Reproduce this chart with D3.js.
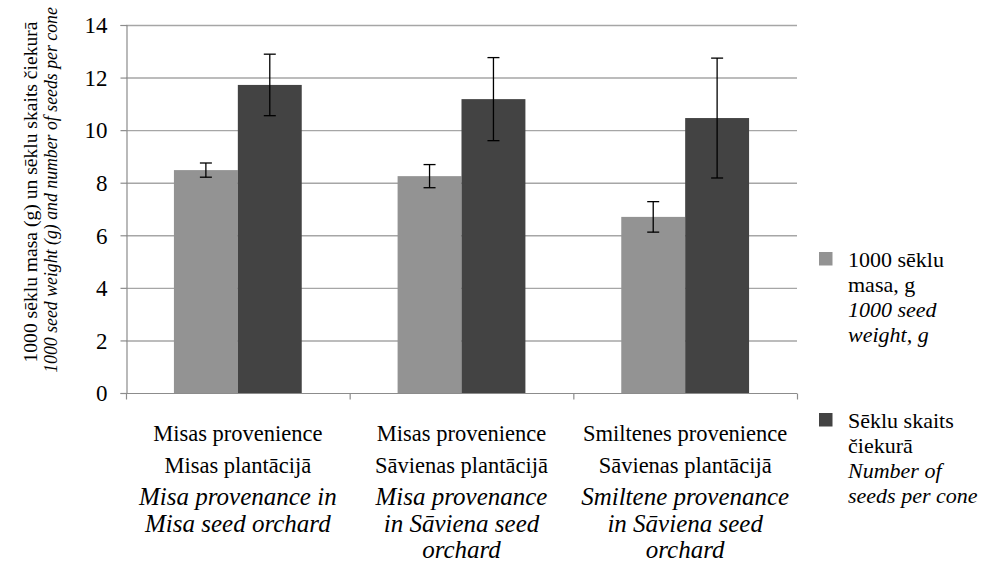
<!DOCTYPE html>
<html><head><meta charset="utf-8">
<script src="https://cdn.jsdelivr.net/npm/d3@7/dist/d3.min.js"></script>
<style>body{margin:0;background:#fff}svg{display:block}</style>
</head><body>
<script>
const categories = ["g1","g2","g3"];
const catLinesRegular = [
  ["Misas provenience","Misas plantācijā"],
  ["Misas provenience","Sāvienas plantācijā"],
  ["Smiltenes provenience","Sāvienas plantācijā"]
];
const catLinesItalic = [
  ["Misa provenance in","Misa seed orchard"],
  ["Misa provenance","in Sāviena seed","orchard"],
  ["Smiltene provenance","in Sāviena seed","orchard"]
];
const seriesNames = ["mass","count"];
const seedMass = [8.48, 8.25, 6.7];
const seedMassErr = [0.27, 0.44, 0.58];
const seedCount = [11.72, 11.18, 10.46];
const seedCountErr = [1.17, 1.58, 2.28];
const yTicks = [0,2,4,6,8,10,12,14];
const legendRegular = [["1000 sēklu","masa, g"],["Sēklu skaits","čiekurā"]];
const legendItalic = [["1000 seed","weight, g"],["Number of","seeds per cone"]];
const yTitle1 = "1000 sēklu masa (g) un sēklu skaits čiekurā";
const yTitle2 = "1000 seed weight (g) and number of seeds per cone";

const W=992,H=564;
const m={l:126,r:797,t:25,b:393};
const colors=["#939393","#434343"];
const font="'Liberation Serif', 'Times New Roman', serif";

const svg=d3.select("body").append("svg").attr("width",W).attr("height",H)
  .attr("font-family",font);
const x=d3.scaleBand().domain(categories).range([m.l,m.r]).paddingInner(0).paddingOuter(0);
const xs=d3.scaleBand().domain(seriesNames).range([0,x.bandwidth()]).paddingInner(0).paddingOuter(0.75);
const y=d3.scaleLinear().domain([0,14]).range([m.b,m.t]);

// gridlines
svg.append("g").selectAll("line").data(yTicks.filter(d=>d>0)).join("line")
  .attr("x1",m.l).attr("x2",m.r).attr("y1",d=>y(d)+0.5).attr("y2",d=>y(d)+0.5)
  .attr("stroke","#a6a6a6").attr("stroke-width",1.4);

// y axis
const ya=svg.append("g").attr("transform",`translate(${m.l+0.5},0)`)
  .call(d3.axisLeft(y).tickValues(yTicks).tickSize(6).tickPadding(13).tickFormat(d3.format("d")));
ya.attr("font-family",font);
ya.selectAll("path,line").attr("stroke","#8c8c8c").attr("stroke-width",1.2);
ya.selectAll("text").attr("font-family",font).attr("font-size",23).attr("fill","#000").attr("dy","0.34em");

// bars
const data=categories.map((c,i)=>({c,vals:[{k:"mass",v:seedMass[i],e:seedMassErr[i]},{k:"count",v:seedCount[i],e:seedCountErr[i]}]}));
const gg=svg.append("g").selectAll("g").data(data).join("g").attr("transform",d=>`translate(${x(d.c)},0)`);
gg.selectAll("rect").data(d=>d.vals).join("rect")
  .attr("x",d=>xs(d.k)).attr("width",xs.bandwidth())
  .attr("y",d=>y(d.v)).attr("height",d=>y(0)-y(d.v))
  .attr("fill",(d,i)=>colors[i]);
// error bars
const eb=gg.selectAll("g.eb").data(d=>d.vals).join("g").attr("class","eb");
eb.append("line").attr("x1",d=>xs(d.k)+xs.bandwidth()/2).attr("x2",d=>xs(d.k)+xs.bandwidth()/2)
  .attr("y1",d=>y(d.v+d.e)).attr("y2",d=>y(d.v-d.e)).attr("stroke","#000").attr("stroke-width",1.3);
eb.selectAll("line.cap").data(d=>[{d,v:d.v+d.e},{d,v:d.v-d.e}]).join("line").attr("class","cap")
  .attr("x1",o=>xs(o.d.k)+xs.bandwidth()/2-6).attr("x2",o=>xs(o.d.k)+xs.bandwidth()/2+6)
  .attr("y1",o=>y(o.v)).attr("y2",o=>y(o.v)).attr("stroke","#000").attr("stroke-width",1.3);

// x axis
const xa=svg.append("g").attr("transform",`translate(0,${m.b+0.5})`);
xa.append("line").attr("x1",m.l).attr("x2",m.r).attr("stroke","#8c8c8c").attr("stroke-width",1.2);
const bounds=[...categories.map(c=>x(c)),m.r];
xa.selectAll("line.t").data(bounds).join("line").attr("class","t")
  .attr("x1",d=>d+0.5).attr("x2",d=>d+0.5).attr("y1",0).attr("y2",6).attr("stroke","#8c8c8c").attr("stroke-width",1.2);

// category labels
const lab=svg.append("g").selectAll("g").data(categories).join("g")
  .attr("transform",c=>`translate(${x(c)+x.bandwidth()/2},0)`);
lab.each(function(c,i){
  const g=d3.select(this);
  catLinesRegular[i].forEach((t,j)=>g.append("text").attr("y",441+j*32).attr("text-anchor","middle")
    .attr("font-size",22.5).text(t));
  catLinesItalic[i].forEach((t,j)=>g.append("text").attr("y",505+j*26.5).attr("text-anchor","middle")
    .attr("font-style","italic").attr("font-size",25).text(t));
});

// y titles (font size fitted to the reference text length)
function fitText(sel,size,target){
  sel.attr("font-size",size);
  const w=sel.node().getComputedTextLength();
  if(w>0) sel.attr("font-size",(size*target/w).toFixed(2));
}
const t1=svg.append("text").attr("transform","translate(37,192) rotate(-90)").attr("text-anchor","middle").text(yTitle1);
fitText(t1,19.5,341);
const t2=svg.append("text").attr("transform","translate(57,190) rotate(-90)").attr("text-anchor","middle")
  .attr("font-style","italic").text(yTitle2);
fitText(t2,18,366);

// legend
const lg=svg.append("g").selectAll("g").data(seriesNames).join("g")
  .attr("transform",(d,i)=>`translate(819,${267+i*161})`);
lg.append("rect").attr("y",-15).attr("width",13.5).attr("height",13.5).attr("fill",(d,i)=>colors[i]);
lg.each(function(d,i){
  const g=d3.select(this);
  legendRegular[i].forEach((t,j)=>g.append("text").attr("x",29).attr("y",j*25)
    .attr("font-size",22).text(t));
  legendItalic[i].forEach((t,j)=>g.append("text").attr("x",29).attr("y",50+j*25)
    .attr("font-style","italic").attr("font-size",22).text(t));
});
</script>
</body></html>
